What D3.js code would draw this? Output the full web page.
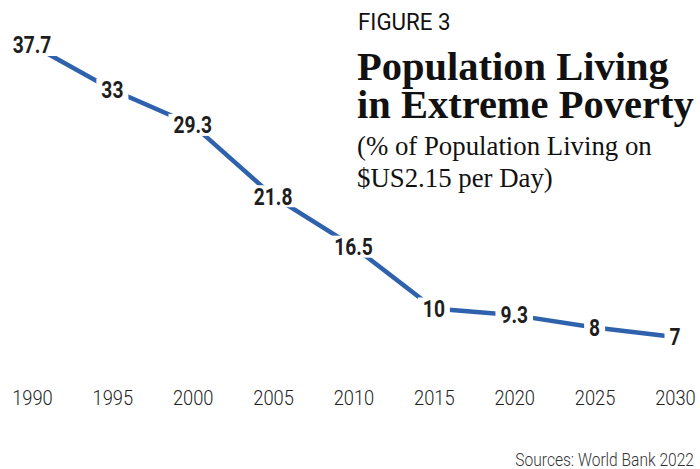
<!DOCTYPE html>
<html><head><meta charset="utf-8">
<script src="https://cdn.jsdelivr.net/npm/d3@7"></script>
<style>
body{margin:0;background:#fff;}
svg{display:block;}
</style></head>
<body><svg id="c" width="700" height="469"></svg>
<script>
const years = [1990, 1995, 2000, 2005, 2010, 2015, 2020, 2025, 2030];
const values = [37.7, 33, 29.3, 21.8, 16.5, 10, 9.3, 8, 7];
const valueLabels = ["37.7", "33", "29.3", "21.8", "16.5", "10", "9.3", "8", "7"];
const figureLabel = "FIGURE 3";
const titleLines = ["Population Living", "in Extreme Poverty"];
const subtitleLines = ["(% of Population Living on", "$US2.15 per Day)"];
const sourceText = "Sources: World Bank 2022";

const svg = d3.select("#c");
const x = d3.scalePoint().domain(years).range([32, 675]);
const y = d3.scaleLinear().domain([0, 37.7]).range([403.6, 45]);

const condensed = "'Roboto', 'Liberation Sans Narrow', sans-serif";

// x axis labels
const xAxis = d3.axisBottom(x).tickSize(0).tickPadding(0);
const gx = svg.append("g").attr("transform", "translate(0,405)").call(xAxis);
gx.select(".domain").remove();
gx.selectAll("text")
  .attr("dy", 0)
  .attr("y", 0)
  .attr("font-family", condensed)
  .attr("font-weight", 300)
  .attr("font-size", 21)
  .attr("fill", "#222")
  .attr("transform", "scale(0.87,1)");

// line
const line = d3.line().x((d,i) => x(years[i])).y(d => y(d));
svg.append("path")
  .datum(values)
  .attr("d", line)
  .attr("fill", "none")
  .attr("stroke", "#2f62ad")
  .attr("stroke-width", 4.5)
  .attr("stroke-linejoin", "miter");

// value labels with white background
const lg = svg.append("g");
const sx = 0.8;
values.forEach((v, i) => {
  const g = lg.append("g").attr("transform", `translate(${x(years[i])},${y(v)})`);
  const rect = g.append("rect").attr("fill", "#fff");
  const t = g.append("text")
    .attr("text-anchor", "middle")
    .attr("dominant-baseline", "central")
    .attr("font-family", condensed)
    .attr("font-weight", 700)
    .attr("font-size", 24)
    .attr("fill", "#1e1e1e")
    .attr("transform", `scale(${sx},1)`)
    .text(valueLabels[i]);
  const b = t.node().getBBox();
  const w = b.width * sx;
  rect.attr("x", -w/2 - 5).attr("y", -11).attr("width", w + 10).attr("height", 22);
});

// Titles
svg.append("text").attr("x", 358).attr("y", 30)
  .attr("font-family", condensed).attr("font-size", 24).attr("fill", "#111")
  .attr("transform", "translate(358,0) scale(0.93,1) translate(-358,0)")
  .text(figureLabel);
titleLines.forEach((s, i) => {
  svg.append("text").attr("x", 357).attr("y", 80 + i*38)
    .attr("font-family", "'Liberation Serif', serif").attr("font-weight", 700)
    .attr("font-size", 40.5).attr("fill", "#111").text(s);
});
subtitleLines.forEach((s, i) => {
  svg.append("text").attr("x", 357).attr("y", 155 + i*32)
    .attr("font-family", "'Liberation Serif', serif")
    .attr("font-size", 26.8).attr("fill", "#111").text(s);
});
svg.append("text").attr("x", 694).attr("y", 466).attr("text-anchor", "end")
  .attr("font-family", condensed).attr("font-weight", 300).attr("font-size", 19).attr("fill", "#333")
  .attr("transform", "translate(694,0) scale(0.82,1) translate(-694,0)")
  .text(sourceText);
</script></body></html>
